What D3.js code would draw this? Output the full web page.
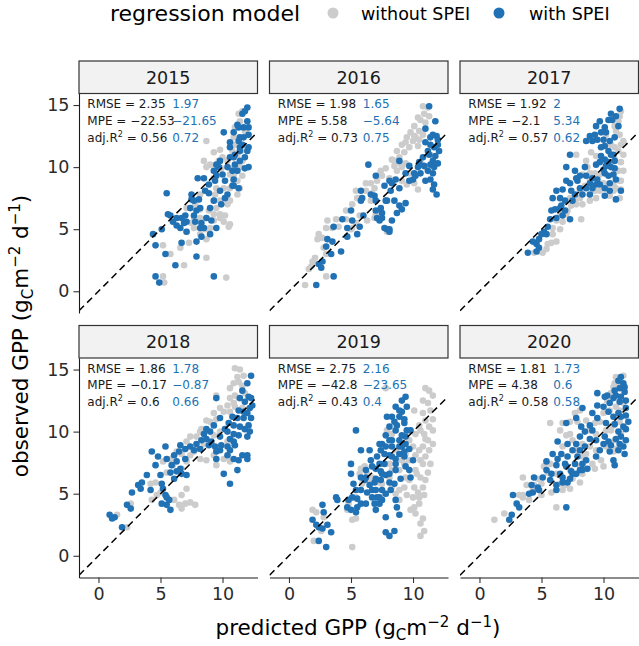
<!DOCTYPE html>
<html><head><meta charset="utf-8">
<script src="https://cdn.jsdelivr.net/npm/d3@7/dist/d3.min.js"></script>
<style>body{margin:0;background:#fff}svg{display:block;font-family:"DejaVu Sans",sans-serif}</style>
</head><body><svg id="chart" width="639" height="646"></svg>
<script>
// ---------- data ----------
const years = [2015, 2016, 2017, 2018, 2019, 2020];
const xTicks = [0, 5, 10];
const yTicks = [0, 5, 10, 15];
const seriesNames = ["without SPEI", "with SPEI"];
const legendTitle = "regression model";

const rmseWithout = [2.35, 1.98, 1.92, 1.86, 2.75, 1.81];
const rmseWith    = [1.97, 1.65, 2, 1.78, 2.16, 1.73];
const mpeWithout  = [-22.53, 5.58, -2.1, -0.17, -42.8, 4.38];
const mpeWith     = [-21.65, -5.64, 5.34, -0.87, -23.65, 0.6];
const r2Without   = [0.56, 0.73, 0.57, 0.6, 0.43, 0.58];
const r2With      = [0.72, 0.75, 0.62, 0.66, 0.4, 0.58];

// [predicted, observed]
const without2015 = [[5.2,3.7],[5.2,1.2],[5.3,0.7],[5.8,3.0],[6.9,2.1],[7.3,3.9],[8.7,2.7],[8.7,4.2],[10.3,1.1],[8.7,12.1],[9.3,11.2],[9.8,11.4],[10.4,10.5],[10.9,11.8],[11.0,13.2],[11.3,14.3],[11.6,14.5],[11.4,13.7],[10.6,9.4],[10.9,9.3],[11.2,8.9],[11.4,8.3],[11.2,7.8],[10.6,7.3],[10.2,6.1],[10.5,5.2],[9.8,5.9],[9.5,6.7],[9.3,5.7],[9.0,5.1],[8.7,5.9],[8.2,5.9],[7.7,5.1],[7.1,6.7],[9.3,9.1],[9.5,9.7],[8.7,10.0],[9.0,10.2],[8.5,10.5],[9.5,8.3],[10.1,8.3],[10.4,7.0],[7.1,4.8],[6.6,3.5],[8.9,6.5],[11.4,10.0],[11.8,12.9],[10.9,12.4],[10.0,10.8],[10.6,8.3],[11.2,11.0],[8.2,7.8],[7.7,5.9],[9.3,7.3],[9.8,7.3],[8.2,4.6],[9.7,10.5],[9.9,9.9],[10.6,9.9],[10.9,8.9],[11.6,9.3],[11.6,10.5],[11.2,11.8],[10.8,11.3],[11.7,11.4],[9.4,7.8],[9.8,6.2],[9.3,6.2],[8.2,6.6],[7.8,7.0],[10.6,5.4],[10.1,5.6],[8.6,5.0],[7.5,5.5]];
const with2015 = [[4.4,4.6],[4.6,3.7],[5.4,3.0],[4.6,1.2],[4.9,0.7],[5.5,7.9],[5.1,5.0],[5.8,6.1],[6.2,2.1],[6.3,5.3],[6.7,3.9],[6.9,5.5],[7.0,6.1],[7.5,7.4],[7.7,6.1],[7.9,2.8],[7.9,4.0],[7.8,5.6],[8.2,6.7],[8.0,9.1],[8.5,5.1],[8.3,4.4],[8.7,5.9],[8.9,7.9],[9.0,6.7],[9.1,5.7],[9.3,1.2],[9.4,8.9],[9.7,10.0],[9.8,8.1],[10.1,12.8],[10.2,8.9],[10.4,7.8],[10.6,11.6],[10.8,9.7],[10.9,8.5],[11.0,11.0],[11.2,13.4],[11.3,12.1],[11.4,10.5],[11.6,14.3],[11.7,13.2],[11.8,14.5],[12.0,13.7],[12.1,12.6],[12.0,11.3],[11.8,10.8],[12.1,10.0],[11.6,11.8],[11.2,9.7],[10.9,9.0],[11.4,12.4],[10.6,10.8],[10.4,10.0],[10.0,9.4],[9.5,9.3],[9.3,7.3],[8.6,8.1],[8.1,7.4],[7.4,6.7],[7.1,4.8],[6.6,5.1],[6.3,5.9],[5.6,6.2],[8.3,5.5],[9.0,4.6],[12.0,14.8],[12.1,11.6],[11.4,11.3],[11.0,10.2],[10.9,12.8],[11.3,13.2],[11.7,12.4],[12.1,13.2],[11.8,9.9],[11.4,11.6],[10.6,12.0],[10.9,10.8],[9.8,10.5],[9.5,10.2],[9.3,9.7],[8.9,8.6],[8.5,9.1],[7.5,7.8],[7.7,7.3],[7.9,6.5],[7.1,5.6],[6.7,5.9],[6.0,5.6],[8.2,5.1],[9.5,5.1],[9.9,7.0],[10.2,7.5],[10.8,8.5],[11.3,8.3]];

const without2016 = [[10.8,14.9],[11.2,14.8],[10.4,14.0],[10.9,14.3],[11.3,14.1],[10.1,13.3],[10.5,12.9],[10.8,12.6],[10.2,12.4],[9.8,12.8],[9.4,12.0],[9.7,11.6],[10.0,12.1],[10.4,11.7],[9.3,11.2],[8.9,10.8],[8.6,10.5],[8.5,10.1],[8.7,9.7],[9.1,10.0],[9.7,9.5],[10.1,8.7],[10.4,8.2],[9.5,8.6],[9.1,8.9],[8.1,9.1],[7.4,9.7],[7.3,9.4],[6.6,8.7],[6.9,8.3],[6.7,7.9],[6.2,8.1],[5.4,8.1],[5.7,7.5],[6.6,7.3],[7.3,6.5],[7.0,6.2],[7.9,4.8],[6.9,5.9],[6.3,5.7],[5.7,6.1],[5.4,5.5],[5.1,5.1],[4.6,5.8],[3.8,5.8],[3.1,5.7],[3.0,5.1],[4.0,5.2],[5.0,5.0],[2.7,4.3],[2.3,4.2],[2.8,3.5],[3.0,3.0],[1.9,2.4],[1.8,2.0],[1.6,1.8],[3.0,1.2],[1.3,0.5],[10.6,10.4],[11.0,10.0],[11.4,11.0],[10.6,13.8],[11.0,13.6],[10.1,12.5],[10.5,12.2],[9.5,12.4],[9.1,11.8],[8.7,11.3],[8.3,10.6],[9.0,10.3],[9.4,10.3],[7.8,9.9],[7.5,9.3],[7.1,8.9],[6.2,8.7],[5.5,7.5],[5.1,7.0],[4.6,6.5],[3.5,5.1],[2.4,4.6],[2.1,2.7]];
const with2016 = [[11.3,14.9],[11.8,13.7],[11.0,13.1],[11.6,12.6],[11.9,12.5],[12.0,12.2],[11.0,12.0],[11.4,11.8],[11.7,11.6],[12.1,11.3],[11.8,10.9],[11.6,10.5],[11.4,10.2],[11.7,10.0],[11.6,9.5],[11.0,8.9],[11.6,8.2],[11.9,7.8],[11.2,11.3],[10.8,10.8],[10.5,10.4],[10.4,10.0],[10.6,9.5],[10.2,9.3],[10.0,9.0],[9.7,10.1],[9.4,9.5],[8.9,10.5],[8.6,9.0],[8.3,8.7],[8.2,8.1],[8.5,7.3],[8.9,6.9],[9.4,7.1],[9.1,6.6],[8.7,6.3],[8.3,5.7],[7.9,5.0],[8.1,4.8],[7.7,5.1],[7.5,6.3],[7.4,6.7],[7.1,5.9],[7.0,7.3],[6.9,7.7],[6.6,7.8],[6.4,10.2],[7.0,9.3],[5.8,8.1],[5.9,7.5],[5.0,6.5],[5.1,5.7],[5.7,5.2],[5.5,4.6],[4.7,4.4],[4.3,5.8],[3.6,5.2],[3.1,4.2],[3.0,3.6],[3.4,3.0],[4.2,3.2],[2.4,2.2],[2.6,1.9],[2.2,0.5],[3.6,1.2],[8.1,8.9],[7.7,8.5],[7.8,7.3],[7.3,5.7],[8.1,5.0],[11.4,12.4],[12.0,11.8],[11.3,11.0],[12.0,10.3],[11.2,9.7],[11.4,9.0],[10.9,10.1],[11.7,8.6],[10.1,9.5],[9.7,8.9],[8.9,8.3],[7.9,7.3],[7.5,5.9],[7.0,6.5],[5.8,7.3],[6.0,6.1],[4.7,5.1],[3.5,4.0],[2.7,2.4]];

const without2017 = [[11.4,14.5],[11.2,13.7],[10.9,13.3],[11.3,12.6],[11.4,11.8],[11.6,11.0],[11.2,11.3],[11.4,10.4],[11.6,9.7],[11.3,8.9],[11.4,8.2],[11.0,8.3],[10.5,7.7],[9.7,8.1],[10.0,8.7],[9.7,9.4],[9.3,9.5],[8.7,10.0],[8.3,9.4],[8.9,9.0],[8.5,8.5],[8.1,7.5],[7.8,7.0],[8.2,5.8],[7.1,6.5],[7.4,6.9],[6.5,6.3],[6.2,5.7],[6.5,5.0],[5.9,4.6],[5.8,3.9],[5.4,3.4],[5.1,3.1],[4.4,3.1],[10.2,12.6],[10.6,11.8],[10.9,11.6],[7.8,11.0],[8.6,10.5],[9.4,10.9],[9.0,11.2],[11.4,8.9],[8.9,7.3],[9.4,7.5],[10.8,8.6],[7.3,7.5],[11.3,14.1],[11.0,12.9],[11.6,12.1],[10.9,10.6],[11.2,9.7],[10.8,8.1],[11.3,7.5],[10.2,8.3],[9.3,8.1],[8.9,9.5],[8.1,8.1],[7.7,7.3],[7.0,6.2],[6.7,5.6],[5.9,5.1],[6.2,4.0],[5.5,3.8],[4.8,3.2],[8.3,7.0]];
const with2017 = [[11.3,14.7],[11.0,14.1],[10.6,14.3],[10.4,13.8],[9.7,13.7],[9.4,13.3],[10.1,13.2],[9.8,12.8],[9.3,12.6],[8.9,12.5],[8.6,12.1],[9.5,12.2],[10.0,12.2],[10.5,12.1],[10.9,12.4],[10.1,11.7],[10.4,11.3],[10.8,11.0],[9.8,10.9],[10.1,10.6],[10.4,10.4],[10.9,10.5],[9.7,10.4],[10.0,9.8],[10.6,10.0],[10.1,9.5],[10.4,9.3],[10.8,9.4],[10.5,8.7],[11.0,9.0],[10.5,8.1],[11.0,7.4],[9.5,9.0],[9.1,9.1],[9.4,8.6],[8.9,8.7],[8.6,9.3],[8.5,10.0],[8.1,9.3],[7.9,8.9],[7.7,9.7],[7.3,11.0],[7.0,10.0],[7.3,8.7],[7.4,8.1],[6.7,8.2],[6.2,8.1],[5.9,7.5],[6.5,7.5],[6.9,7.3],[6.6,6.9],[6.1,6.6],[6.9,6.5],[7.3,5.8],[6.7,6.1],[5.7,5.8],[5.5,5.2],[5.2,4.8],[5.0,4.6],[4.6,3.8],[4.8,3.5],[3.9,3.1],[4.3,4.0],[8.1,8.3],[8.3,7.8],[7.7,7.8],[7.5,7.3],[8.9,7.8],[9.1,8.3],[10.1,8.3],[11.4,8.1],[10.7,13.8],[11.2,13.3],[10.2,12.8],[9.1,12.1],[9.8,11.6],[10.6,11.0],[9.4,10.2],[10.2,10.1],[10.9,9.9],[9.7,8.6],[10.1,7.7],[8.6,8.3],[7.8,9.1],[7.0,8.9],[6.5,6.7],[5.8,6.5],[6.2,5.9],[5.4,4.6],[4.8,4.2],[4.6,3.2]];

const without2018 = [[11.0,15.1],[11.4,15.0],[11.7,14.5],[11.2,14.4],[10.9,13.9],[10.6,13.5],[11.3,12.7],[11.8,13.1],[11.0,12.9],[9.5,12.9],[10.4,12.1],[9.8,11.9],[9.3,11.5],[8.7,10.9],[8.3,10.2],[7.9,9.6],[8.5,9.0],[7.4,9.6],[7.1,9.2],[6.7,8.2],[7.7,8.4],[8.2,7.8],[8.7,7.7],[9.3,8.1],[10.1,7.8],[10.6,7.6],[9.5,7.3],[7.1,7.6],[6.7,7.0],[5.8,7.8],[5.2,7.6],[4.6,5.9],[4.2,5.8],[4.7,4.9],[4.3,4.5],[6.7,4.9],[7.0,4.2],[6.7,3.8],[6.5,4.1],[6.1,4.5],[2.6,4.2],[1.5,3.3],[2.3,2.3],[11.0,12.0],[10.6,11.6],[11.6,11.9],[10.9,12.3],[11.3,14.0],[11.6,13.7],[10.6,12.7],[10.1,11.6],[9.5,11.0],[9.0,10.8],[8.2,10.0],[9.3,9.7],[9.8,10.0],[10.4,9.2],[10.9,8.9],[7.9,8.6],[7.4,8.1],[6.3,8.4],[6.0,7.3],[5.5,6.7],[5.0,5.1],[7.1,5.4],[7.4,4.3],[7.8,4.1]];
const with2018 = [[12.3,14.5],[12.0,13.9],[11.6,13.3],[12.1,12.8],[12.3,12.7],[11.8,12.4],[12.2,11.9],[12.0,11.5],[12.3,11.1],[11.7,11.1],[11.3,11.7],[11.2,11.1],[10.8,11.2],[10.5,10.7],[10.9,10.5],[11.4,10.4],[11.8,10.2],[12.2,10.0],[12.0,9.6],[11.3,9.7],[10.9,9.8],[10.6,9.4],[10.4,10.0],[10.2,10.2],[9.8,11.1],[9.5,12.7],[9.3,10.5],[9.0,10.0],[8.7,10.2],[8.5,9.8],[8.7,9.4],[9.1,9.2],[9.4,8.8],[9.8,8.5],[10.4,8.1],[10.9,7.8],[11.3,7.7],[12.0,8.1],[11.2,6.9],[10.6,5.8],[10.1,6.6],[9.5,8.4],[8.2,8.6],[7.9,9.0],[7.4,8.8],[7.0,8.6],[6.6,8.9],[6.5,8.4],[6.1,8.1],[5.9,7.3],[6.3,6.8],[6.7,6.6],[7.1,6.5],[6.6,7.0],[5.5,7.8],[5.4,8.8],[4.6,7.3],[4.8,8.0],[4.3,8.4],[6.1,6.2],[5.0,6.5],[5.1,5.8],[5.2,5.4],[5.5,4.7],[5.7,4.5],[5.8,3.7],[5.5,4.1],[5.1,4.2],[4.2,5.3],[3.5,5.9],[3.4,5.4],[2.7,5.1],[2.6,3.8],[1.3,3.1],[1.1,3.0],[0.9,3.3],[1.9,2.3],[12.0,7.8],[10.9,9.2],[10.4,8.8],[9.8,9.6],[11.4,12.7],[11.7,11.6],[12.4,12.1],[12.1,10.5],[11.0,8.9],[10.6,8.5],[9.9,8.9],[8.9,8.9],[8.3,9.3],[7.7,8.5],[7.0,7.8],[6.3,7.6],[5.8,6.7],[5.4,4.9],[3.9,6.5],[3.2,5.7],[2.3,4.1],[11.6,8.1],[9.5,7.8]];

const without2019 = [[11.0,13.5],[11.6,12.9],[11.2,12.3],[11.4,11.7],[10.8,11.5],[11.0,10.9],[11.3,10.4],[11.6,10.1],[10.9,9.8],[11.2,9.3],[10.8,8.8],[11.3,8.5],[11.0,8.0],[11.4,7.4],[10.6,7.7],[10.2,8.1],[10.0,8.8],[9.7,9.3],[10.2,9.8],[10.5,10.5],[10.1,11.7],[10.2,6.9],[10.6,6.3],[11.0,6.1],[10.8,5.5],[10.4,5.1],[10.0,4.7],[10.9,4.9],[10.5,4.2],[10.1,3.9],[10.2,3.4],[10.8,3.0],[10.9,2.0],[10.6,1.6],[8.9,4.5],[8.6,5.0],[8.3,5.5],[9.3,5.5],[9.4,6.3],[8.9,6.9],[8.1,7.4],[7.8,5.0],[7.5,5.8],[6.7,6.3],[6.3,6.6],[5.9,5.8],[5.7,6.6],[6.1,7.2],[5.4,4.7],[4.8,4.2],[5.1,2.9],[5.4,3.0],[4.7,3.7],[1.9,3.7],[2.2,3.5],[2.8,3.1],[2.0,1.2],[2.6,2.0],[5.1,0.7],[8.6,8.5],[9.1,7.7],[9.7,7.7],[8.3,9.8],[7.9,10.1],[7.8,13.5],[11.3,13.3],[10.8,12.5],[11.6,11.0],[10.6,10.1],[11.0,9.4],[11.6,9.0],[10.5,8.5],[10.8,7.4],[10.3,6.6],[11.2,6.7],[9.7,6.1],[10.1,5.5],[9.5,4.9],[10.5,4.7],[9.8,3.7],[10.6,2.6],[8.1,6.3],[7.3,5.9],[6.5,6.1],[5.8,7.0],[8.9,5.3],[9.3,7.4],[8.3,6.9],[9.4,8.2]];
const with2019 = [[9.4,12.8],[9.5,12.0],[9.1,11.6],[8.6,12.0],[8.9,11.2],[8.3,11.2],[7.9,11.2],[8.1,10.4],[8.7,10.5],[9.3,10.7],[9.5,10.1],[9.1,9.7],[8.9,9.3],[9.4,9.0],[9.7,8.6],[10.0,7.7],[9.3,8.0],[8.9,8.2],[8.3,8.8],[8.1,9.3],[7.8,9.7],[7.5,9.0],[7.4,8.5],[7.7,8.2],[7.1,8.0],[7.3,7.4],[7.0,7.0],[7.4,6.8],[7.8,6.5],[8.1,5.9],[8.2,5.3],[7.8,5.0],[7.5,4.5],[7.1,4.7],[6.7,5.3],[6.5,5.7],[6.1,6.1],[5.8,6.3],[6.2,6.9],[6.6,7.7],[6.5,8.5],[5.8,8.5],[5.4,10.1],[5.0,7.4],[5.0,6.6],[5.2,5.8],[5.4,5.3],[5.1,4.7],[4.7,3.9],[5.0,3.7],[5.4,3.5],[5.8,4.2],[6.2,4.2],[7.0,3.7],[7.8,3.1],[8.7,3.9],[8.9,3.3],[8.5,2.0],[7.8,1.9],[8.1,1.6],[6.7,4.7],[6.9,4.2],[7.3,4.7],[6.3,5.1],[5.5,4.6],[3.8,4.7],[3.9,4.5],[2.7,4.1],[2.8,3.5],[2.2,2.5],[2.4,2.3],[2.7,2.2],[3.1,2.5],[3.4,1.9],[2.4,1.2],[3.0,0.7],[1.9,2.9],[9.8,6.3],[9.4,7.2],[8.6,7.4],[7.4,6.1],[6.9,5.9],[8.3,8.0],[9.8,10.1],[9.1,8.8],[9.1,12.5],[8.9,11.7],[8.5,10.8],[9.3,11.0],[8.6,10.1],[9.4,9.6],[8.3,9.3],[8.9,8.8],[9.3,8.4],[7.8,8.8],[7.3,9.0],[8.1,8.1],[8.6,7.8],[7.7,7.4],[6.7,7.2],[6.2,6.3],[7.0,6.2],[7.5,6.6],[8.1,6.6],[8.6,6.9],[9.0,6.2],[8.5,5.8],[7.5,5.3],[7.0,5.3],[5.8,5.3],[4.8,4.5],[5.5,3.9],[7.3,4.2],[8.6,4.5],[9.7,6.9]];

const without2020 = [[11.0,14.4],[11.3,14.0],[10.8,13.6],[10.6,13.1],[11.6,12.3],[11.0,12.0],[10.5,11.7],[10.0,11.5],[9.7,10.8],[9.3,10.7],[8.6,10.9],[8.1,11.7],[7.7,11.5],[7.3,10.8],[6.7,10.7],[5.7,10.7],[6.5,10.1],[7.3,9.8],[7.5,9.3],[8.3,9.0],[8.9,8.8],[9.4,8.5],[10.2,8.8],[10.9,9.3],[10.6,10.1],[11.3,10.8],[11.4,9.8],[11.0,8.6],[10.0,7.2],[9.3,7.0],[8.3,6.6],[7.5,6.2],[7.3,5.4],[6.9,5.7],[6.5,5.8],[5.7,7.4],[5.2,7.2],[4.7,6.2],[4.4,5.7],[3.5,6.3],[3.8,5.7],[5.0,4.9],[4.0,4.5],[3.5,4.7],[3.2,4.9],[2.0,3.4],[1.2,2.9],[6.2,3.9],[8.1,5.9],[8.3,8.0],[11.6,14.5],[10.9,13.9],[10.3,12.5],[11.3,11.7],[10.8,10.5],[10.2,10.1],[9.4,9.8],[8.9,10.1],[7.9,10.8],[7.0,9.7],[6.7,8.8],[7.8,8.5],[8.6,8.2],[9.1,7.4],[8.1,7.2],[7.3,6.9],[6.2,6.6],[5.5,6.7],[6.7,5.3],[5.0,5.8],[4.3,5.3],[3.5,4.9],[5.8,5.1],[9.8,7.7],[10.8,8.4]];
const with2020 = [[11.4,14.4],[11.6,13.9],[11.3,13.5],[11.7,13.2],[11.4,12.8],[11.8,12.5],[11.0,12.9],[10.8,12.7],[10.5,12.3],[10.1,12.8],[9.5,13.1],[10.0,12.0],[10.4,11.6],[10.8,11.2],[11.2,11.5],[11.8,11.3],[12.0,10.8],[11.6,10.4],[11.2,10.0],[11.4,9.6],[11.8,9.3],[11.3,9.0],[11.2,8.5],[11.7,8.2],[10.8,7.7],[10.6,8.9],[10.4,9.2],[10.0,9.0],[9.7,8.5],[9.4,9.3],[9.1,10.1],[8.9,10.5],[9.5,11.1],[9.1,11.5],[8.3,11.9],[7.8,11.1],[8.2,10.4],[8.5,10.0],[8.1,9.6],[7.8,9.0],[8.1,8.5],[7.9,8.0],[8.3,7.4],[8.6,7.7],[8.7,7.0],[8.1,6.9],[7.8,6.6],[7.4,6.8],[7.3,6.2],[7.1,5.9],[6.7,6.3],[6.5,6.6],[6.9,7.4],[6.2,7.3],[7.1,8.0],[6.6,8.2],[5.9,8.2],[6.3,9.2],[7.0,10.7],[5.4,6.9],[5.1,6.3],[5.7,6.1],[6.2,5.7],[6.2,5.3],[4.8,5.3],[4.3,5.1],[4.4,6.3],[4.2,5.7],[3.0,4.2],[2.6,3.3],[2.4,2.9],[2.7,4.9],[7.0,3.9],[10.9,7.3],[10.1,9.6],[10.2,10.7],[9.5,12.1],[11.2,14.1],[11.7,13.6],[10.9,13.3],[10.3,12.9],[11.3,12.4],[11.8,11.9],[11.4,11.2],[10.9,10.6],[11.8,10.2],[11.6,8.8],[11.0,9.4],[10.5,8.4],[9.4,8.0],[8.9,9.4],[8.5,8.8],[7.5,8.5],[7.7,7.4],[7.0,7.2],[7.5,6.6],[8.3,6.9],[6.7,5.9],[5.8,6.6],[5.4,7.6],[4.7,5.5],[4.0,5.0],[3.2,3.9],[6.3,7.8],[7.1,9.0]];

const withoutSeries = [without2015, without2016, without2017, without2018, without2019, without2020];
const withSeries = [with2015, with2016, with2017, with2018, with2019, with2020];

// ---------- layout / style ----------
const colLeft = [79, 269.5, 460], panelW = 178.5;
const stripTop = [61, 325.5], stripH = 32.5, panelH = 219.5;
const xDomain = [-1.57, 12.82], yDomain = [-1.75, 15.93];
const cGrey = "#cccccc", cBlue = "#2171b5";
const fmt = v => String(v).replace("-", "\u2212");

const svg = d3.select("#chart");
const defs = svg.append("defs");

years.forEach((yr, i) => {
  const col = i % 3, row = Math.floor(i / 3);
  const left = colLeft[col], top = stripTop[row] + stripH;
  const x = d3.scaleLinear().domain(xDomain).range([left, left + panelW]);
  const y = d3.scaleLinear().domain(yDomain).range([top + panelH, top]);

  svg.append("rect").attr("x", left).attr("y", stripTop[row]).attr("width", panelW).attr("height", stripH)
    .attr("fill", "#f2f2f2").attr("stroke", "#333").attr("stroke-width", 1.2);
  svg.append("text").attr("x", left + panelW / 2).attr("y", stripTop[row] + stripH / 2 + 6.3)
    .attr("text-anchor", "middle").attr("font-size", 17.5).attr("fill", "#1a1a1a").text(yr);

  defs.append("clipPath").attr("id", "clip" + i).append("rect")
    .attr("x", left).attr("y", top).attr("width", panelW).attr("height", panelH);
  const g = svg.append("g").attr("clip-path", `url(#clip${i})`);

  g.selectAll("circle.wo").data(withoutSeries[i]).join("circle").attr("class", "wo")
    .attr("cx", d => x(d[0])).attr("cy", d => y(d[1])).attr("r", 3.3).attr("fill", cGrey);
  g.selectAll("circle.wi").data(withSeries[i]).join("circle").attr("class", "wi")
    .attr("cx", d => x(d[0])).attr("cy", d => y(d[1])).attr("r", 3.3).attr("fill", cBlue);

  g.append("line").attr("x1", x(xDomain[0])).attr("y1", y(xDomain[0]))
    .attr("x2", x(xDomain[1])).attr("y2", y(xDomain[1]))
    .attr("stroke", "#000").attr("stroke-width", 1.5).attr("stroke-dasharray", "7,4.5");

  const ax = x(-0.9), bx = ax + 85;
  const ly = [y(15) + 3, y(13.65) + 3, y(12.3) + 3];
  const ann = svg.append("g").attr("font-size", 12);
  ann.append("text").attr("x", ax).attr("y", ly[0]).attr("fill", "#1a1a1a").text("RMSE = " + fmt(rmseWithout[i]));
  ann.append("text").attr("x", ax).attr("y", ly[1]).attr("fill", "#1a1a1a").text("MPE = " + fmt(mpeWithout[i]));
  const t3 = ann.append("text").attr("x", ax).attr("y", ly[2]).attr("fill", "#1a1a1a");
  t3.append("tspan").text("adj.R");
  t3.append("tspan").attr("font-size", 8).attr("dy", -5).text("2");
  t3.append("tspan").attr("dy", 5).text(" = " + fmt(r2Without[i]));
  ann.append("text").attr("x", bx).attr("y", ly[0]).attr("fill", cBlue).text(fmt(rmseWith[i]));
  ann.append("text").attr("x", bx).attr("y", ly[1]).attr("fill", cBlue).text(fmt(mpeWith[i]));
  ann.append("text").attr("x", bx).attr("y", ly[2]).attr("fill", cBlue).text(fmt(r2With[i]));

  if (col === 0) {
    const a = svg.append("g").attr("transform", `translate(${left},0)`)
      .call(d3.axisLeft(y).tickValues(yTicks).tickSize(5.5).tickSizeOuter(0).tickPadding(4));
    a.select(".domain").attr("stroke", "#1a1a1a").attr("stroke-width", 1.1);
    a.selectAll(".tick line").attr("stroke", "#333").attr("stroke-width", 1.1);
    a.selectAll(".tick text").attr("font-size", 17.5).attr("fill", "#2b2b2b").attr("font-family", "DejaVu Sans");
  }
  if (row === 1) {
    const a = svg.append("g").attr("transform", `translate(0,${top + panelH})`)
      .call(d3.axisBottom(x).tickValues(xTicks).tickSize(5.5).tickSizeOuter(0).tickPadding(5));
    a.select(".domain").attr("stroke", "#1a1a1a").attr("stroke-width", 1.1);
    a.selectAll(".tick line").attr("stroke", "#333").attr("stroke-width", 1.1);
    a.selectAll(".tick text").attr("font-size", 17.5).attr("fill", "#2b2b2b").attr("font-family", "DejaVu Sans");
  }
});

function unitTitle(sel, label) {
  sel.append("tspan").text(label + " (g");
  sel.append("tspan").attr("font-size", 15).attr("dy", 5).text("C");
  sel.append("tspan").attr("dy", -5).text("m");
  sel.append("tspan").attr("font-size", 15).attr("dy", -8).text("\u22122");
  sel.append("tspan").attr("dy", 8).text(" d");
  sel.append("tspan").attr("font-size", 15).attr("dy", -8).text("\u22121");
  sel.append("tspan").attr("dy", 8).text(")");
}
const xt = svg.append("text").attr("x", 358).attr("y", 635).attr("text-anchor", "middle")
  .attr("font-size", 21.5).attr("fill", "#000");
unitTitle(xt, "predicted GPP");
const yt = svg.append("text").attr("transform", "translate(28,336) rotate(-90)").attr("text-anchor", "middle")
  .attr("font-size", 21.5).attr("fill", "#000");
unitTitle(yt, "observed GPP");

const lg = svg.append("g");
lg.append("text").attr("x", 110).attr("y", 21).attr("font-size", 22).attr("fill", "#000").text(legendTitle);
const keyX = [333, 499], labX = [361, 529], keyCol = [cGrey, cBlue];
seriesNames.forEach((n, k) => {
  lg.append("circle").attr("cx", keyX[k]).attr("cy", 13).attr("r", 5.5).attr("fill", keyCol[k]);
  lg.append("text").attr("x", labX[k]).attr("y", 20).attr("font-size", 17.5).attr("fill", "#000").text(n);
});
</script></body></html>
